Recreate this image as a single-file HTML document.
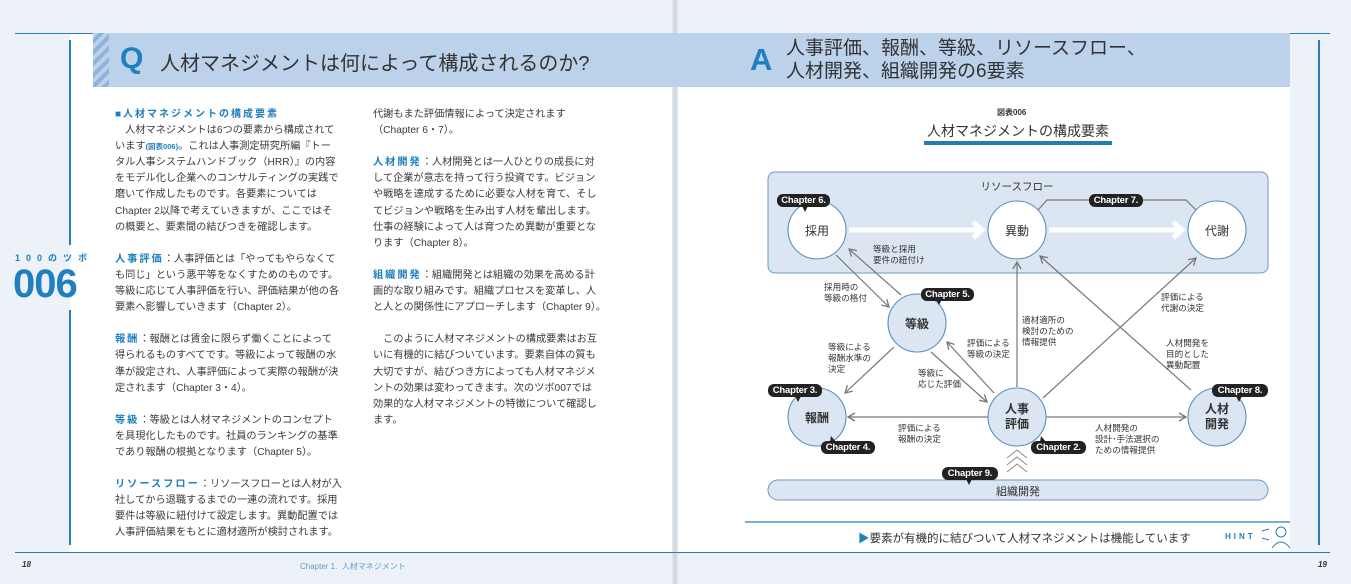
<!DOCTYPE html>
<html><head><meta charset="utf-8">
<style>
*{margin:0;padding:0;box-sizing:border-box}
body{width:1351px;height:584px;overflow:hidden;background:#edf2f8;position:relative;font-family:"Liberation Sans","Noto Sans CJK JP",sans-serif;color:#333}
.a{position:absolute;white-space:nowrap}
.pg{position:absolute;background:#fff}
.t{position:absolute;font-size:10.2px;line-height:16.1px;color:#3a3a3a;white-space:nowrap;letter-spacing:0}
.b{color:#1f7fc0;font-weight:bold;letter-spacing:2px}
.lbl{position:absolute;font-size:8.6px;line-height:11px;color:#333;white-space:nowrap}
.tag{position:absolute;background:#222;color:#fff;font-size:9.5px;font-weight:bold;border-radius:6px;height:13px;line-height:13px;text-align:center;letter-spacing:-0.2px}
.ct{position:absolute;font-size:12px;color:#333;text-align:center;white-space:nowrap}
</style></head><body>
<div class="pg" style="left:70px;top:33px;width:605px;height:519px"></div>
<div class="pg" style="left:675px;top:33px;width:615px;height:519px"></div>
<div class="a" style="left:672px;top:0;width:6px;height:584px;background:linear-gradient(90deg,#e4e8ee,#cfd5dd,#e4e8ee)"></div>
<!-- rules -->
<div class="a" style="left:15px;top:33px;width:78px;height:1px;background:#2a7fb0"></div>
<div class="a" style="left:69px;top:40px;width:1.5px;height:205px;background:#2a7fb0"></div>
<div class="a" style="left:69px;top:310px;width:1.5px;height:235px;background:#2a7fb0"></div>
<div class="a" style="left:15px;top:552px;width:660px;height:1px;background:#2a7fb0"></div>
<div class="a" style="left:675px;top:552px;width:655px;height:1px;background:#2a7fb0"></div>
<div class="a" style="left:1290px;top:33px;width:40px;height:1px;background:#2a7fb0"></div>
<div class="a" style="left:1318px;top:40px;width:1.5px;height:505px;background:#2a7fb0"></div>
<!-- Q header -->
<div class="a" style="left:93px;top:33px;width:582px;height:54px;background:#bcd1ea"></div>
<div class="a" style="left:93px;top:33px;width:16px;height:54px;background:repeating-linear-gradient(135deg,#bcd1ea 0 4px,#8eb3dc 4px 8px)"></div>
<div class="a" style="left:120px;top:42px;font-size:30px;font-weight:bold;color:#1f7fc0">Q</div>
<div class="a" style="left:160px;top:47px;font-size:20px;color:#333">人材マネジメントは何によって構成されるのか?</div>
<!-- A header -->
<div class="a" style="left:675px;top:33px;width:615px;height:54px;background:#bcd1ea"></div>
<div class="a" style="left:750px;top:42px;font-size:31px;font-weight:bold;color:#1f7fc0">A</div>
<div class="a" style="left:786px;top:37px;font-size:19px;line-height:23px;color:#333">人事評価、報酬、等級、リソースフロー、<br>人材開発、組織開発の6要素</div>
<!-- tsubo -->
<div class="a" style="left:15px;top:251px;font-size:9px;font-weight:bold;color:#1f7fc0;letter-spacing:6px">100のツボ</div>
<div class="a" style="left:13px;top:262px;font-size:40px;font-weight:bold;color:#1f7fc0;letter-spacing:-1px">006</div>
<!-- left column -->
<div class="t" style="left:115px;top:107px">
<div><span class="b" style="font-size:10px;letter-spacing:2px">■人材マネジメントの構成要素</span></div>
<div>&#12288;人材マネジメントは6つの要素から構成されて</div>
<div>います<span style="color:#1f7fc0;font-size:7.5px;font-weight:bold">(図表006)</span>。これは人事測定研究所編『トー</div>
<div>タル人事システムハンドブック（HRR）』の内容</div>
<div>をモデル化し企業へのコンサルティングの実践で</div>
<div>磨いて作成したものです。各要素については</div>
<div>Chapter 2以降で考えていきますが、ここではそ</div>
<div>の概要と、要素間の結びつきを確認します。</div>
<div>&nbsp;</div>
<div><span class="b">人事評価</span>：人事評価とは「やってもやらなくて</div>
<div>も同じ」という悪平等をなくすためのものです。</div>
<div>等級に応じて人事評価を行い、評価結果が他の各</div>
<div>要素へ影響していきます（Chapter 2）。</div>
<div>&nbsp;</div>
<div><span class="b">報酬</span>：報酬とは賃金に限らず働くことによって</div>
<div>得られるものすべてです。等級によって報酬の水</div>
<div>準が設定され、人事評価によって実際の報酬が決</div>
<div>定されます（Chapter 3・4）。</div>
<div>&nbsp;</div>
<div><span class="b">等級</span>：等級とは人材マネジメントのコンセプト</div>
<div>を具現化したものです。社員のランキングの基準</div>
<div>であり報酬の根拠となります（Chapter 5）。</div>
<div>&nbsp;</div>
<div><span class="b">リソースフロー</span>：リソースフローとは人材が入</div>
<div>社してから退職するまでの一連の流れです。採用</div>
<div>要件は等級に紐付けて設定します。異動配置では</div>
<div>人事評価結果をもとに適材適所が検討されます。</div>
</div>
<!-- right column -->
<div class="t" style="left:373px;top:107px">
<div>代謝もまた評価情報によって決定されます</div>
<div>（Chapter 6・7）。</div>
<div>&nbsp;</div>
<div><span class="b">人材開発</span>：人材開発とは一人ひとりの成長に対</div>
<div>して企業が意志を持って行う投資です。ビジョン</div>
<div>や戦略を達成するために必要な人材を育て、そし</div>
<div>てビジョンや戦略を生み出す人材を輩出します。</div>
<div>仕事の経験によって人は育つため異動が重要とな</div>
<div>ります（Chapter 8）。</div>
<div>&nbsp;</div>
<div><span class="b">組織開発</span>：組織開発とは組織の効果を高める計</div>
<div>画的な取り組みです。組織プロセスを変革し、人</div>
<div>と人との関係性にアプローチします（Chapter 9）。</div>
<div>&nbsp;</div>
<div>&#12288;このように人材マネジメントの構成要素はお互</div>
<div>いに有機的に結びついています。要素自体の質も</div>
<div>大切ですが、結びつき方によっても人材マネジメ</div>
<div>ントの効果は変わってきます。次のツボ007では</div>
<div>効果的な人材マネジメントの特徴について確認し</div>
<div>ます。</div>
</div>
<!-- footer -->
<div class="a" style="left:22px;top:560px;font-size:8px;font-weight:bold;font-style:italic">18</div>
<div class="a" style="left:300px;top:561px;font-size:8px;color:#5a9cc8">Chapter 1.&nbsp;&nbsp;人材マネジメント</div>
<div class="a" style="left:1318px;top:560px;font-size:8px;font-weight:bold;font-style:italic">19</div>
<!-- figure title -->
<div class="a" style="left:997px;top:107px;font-size:8px;font-weight:bold;color:#333">図表006</div>
<div class="a" style="left:924px;top:121px;width:188px;text-align:center;font-size:14px;color:#333">人材マネジメントの構成要素</div>
<div class="a" style="left:924px;top:141px;width:188px;height:4px;background:#1f7fb0"></div>
<!-- diagram -->
<svg class="a" style="left:0;top:0" width="1351" height="584" viewBox="0 0 1351 584">
<defs>
<marker id="ar" markerWidth="10" markerHeight="10" refX="8" refY="5" orient="auto" markerUnits="userSpaceOnUse">
<polyline points="1,1 8,5 1,9" fill="none" stroke="#777" stroke-width="1.3"/>
</marker>
</defs>
<rect x="768" y="172" width="500" height="101" rx="7" fill="#dbe6f2" stroke="#6a98c6" stroke-width="1"/>
<rect x="768" y="480" width="500" height="20" rx="10" fill="#dbe6f2" stroke="#6a98c6" stroke-width="1"/>
<g stroke="#fff" stroke-width="5" fill="none">
<line x1="849" y1="230" x2="980" y2="230"/><polyline points="973,222 982,230 973,238"/>
<line x1="1049" y1="230" x2="1180" y2="230"/><polyline points="1173,222 1182,230 1173,238"/>
</g>
<g stroke="#777" stroke-width="1.2" fill="none">
<polyline points="1038,210 1047,200 1186,200 1196,210"/>
<line x1="836" y1="255" x2="889" y2="307" marker-end="url(#ar)"/>
<line x1="901" y1="295" x2="849" y2="249" marker-end="url(#ar)"/>
<line x1="894" y1="347" x2="845" y2="393" marker-end="url(#ar)"/>
<line x1="931" y1="352" x2="987" y2="402" marker-end="url(#ar)"/>
<line x1="994" y1="393" x2="947" y2="342" marker-end="url(#ar)"/>
<line x1="988" y1="417" x2="848" y2="417" marker-end="url(#ar)"/>
<line x1="1017" y1="387" x2="1017" y2="262" marker-end="url(#ar)"/>
<line x1="1043" y1="398" x2="1196" y2="258" marker-end="url(#ar)"/>
<line x1="1191" y1="390" x2="1040" y2="256" marker-end="url(#ar)"/>
<line x1="1046" y1="417" x2="1186" y2="417" marker-end="url(#ar)"/>
</g>
<g fill="none" stroke="#888" stroke-width="1">
<polyline points="1007,458 1017,450 1027,458"/>
<polyline points="1007,465 1017,457 1027,465"/>
<polyline points="1007,472 1017,464 1027,472"/>
</g>
<g stroke="#5b8fc0" stroke-width="1.1">
<circle cx="817" cy="230" r="29" fill="#fff"/>
<circle cx="1017" cy="230" r="29" fill="#fff"/>
<circle cx="1217" cy="230" r="29" fill="#fff"/>
<circle cx="917" cy="323" r="29" fill="#dbe6f2"/>
<circle cx="817" cy="417" r="29" fill="#dbe6f2"/>
<circle cx="1017" cy="417" r="29" fill="#dbe6f2"/>
<circle cx="1217" cy="417" r="29" fill="#dbe6f2"/>
</g>
<g fill="#222">
<polygon points="802,206 808,206 805,212"/>
<polygon points="936,299 942,299 939,305"/>
<polygon points="795,396 801,396 798,402"/>
<polygon points="1236,396 1242,396 1239,402"/>
<polygon points="830,442 836,442 831,436"/>
<polygon points="1040,442 1046,442 1041,436"/>
<polygon points="966,479 972,479 969,485"/>
</g>
<line x1="745" y1="522" x2="1290" y2="522" stroke="#2a7fb0" stroke-width="1.2"/>
<g stroke="#2a7fb0" fill="none" stroke-width="1">
<circle cx="1281" cy="532" r="5"/>
<path d="M1272 548 q9 -12 18 0"/>
<line x1="1262" y1="531" x2="1269" y2="529"/>
<line x1="1262" y1="538" x2="1269" y2="540"/>
</g>
</svg>
<div class="ct" style="left:977px;top:179px;width:80px;font-size:10.5px">リソースフロー</div>
<div class="ct" style="left:787px;top:222px;width:60px">採用</div>
<div class="ct" style="left:987px;top:222px;width:60px">異動</div>
<div class="ct" style="left:1187px;top:222px;width:60px">代謝</div>
<div class="ct" style="left:887px;top:315px;width:60px;font-weight:bold">等級</div>
<div class="ct" style="left:787px;top:409px;width:60px;font-weight:bold">報酬</div>
<div class="ct" style="left:987px;top:402px;width:60px;font-weight:bold;line-height:15px">人事<br>評価</div>
<div class="ct" style="left:1187px;top:402px;width:60px;font-weight:bold;line-height:15px">人材<br>開発</div>
<div class="ct" style="left:968px;top:483px;width:100px;font-size:11px">組織開発</div>
<div class="tag" style="left:777px;top:194px;width:53px">Chapter 6.</div>
<div class="tag" style="left:1089px;top:194px;width:54px">Chapter 7.</div>
<div class="tag" style="left:921px;top:288px;width:53px">Chapter 5.</div>
<div class="tag" style="left:768px;top:384px;width:54px">Chapter 3.</div>
<div class="tag" style="left:1212px;top:384px;width:56px">Chapter 8.</div>
<div class="tag" style="left:821px;top:441px;width:54px">Chapter 4.</div>
<div class="tag" style="left:1031px;top:441px;width:55px">Chapter 2.</div>
<div class="tag" style="left:942px;top:467px;width:56px">Chapter 9.</div>
<div class="lbl" style="left:873px;top:244px">等級と採用<br>要件の紐付け</div>
<div class="lbl" style="left:824px;top:282px">採用時の<br>等級の格付</div>
<div class="lbl" style="left:828px;top:342px">等級による<br>報酬水準の<br>決定</div>
<div class="lbl" style="left:967px;top:338px">評価による<br>等級の決定</div>
<div class="lbl" style="left:918px;top:368px">等級に<br>応じた評価</div>
<div class="lbl" style="left:1022px;top:315px">適材適所の<br>検討のための<br>情報提供</div>
<div class="lbl" style="left:1161px;top:292px">評価による<br>代謝の決定</div>
<div class="lbl" style="left:1166px;top:338px">人材開発を<br>目的とした<br>異動配置</div>
<div class="lbl" style="left:898px;top:423px">評価による<br>報酬の決定</div>
<div class="lbl" style="left:1095px;top:423px">人材開発の<br>設計･手法選択の<br>ための情報提供</div>
<div class="a" style="left:858px;top:530px;font-size:11.5px;color:#333;letter-spacing:0"><span style="color:#1f7fc0">▶</span>要素が有機的に結びついて人材マネジメントは機能しています</div>
<div class="a" style="left:1225px;top:532px;font-size:8px;font-weight:bold;color:#1f7fc0;letter-spacing:3px">HINT</div>
</body></html>
